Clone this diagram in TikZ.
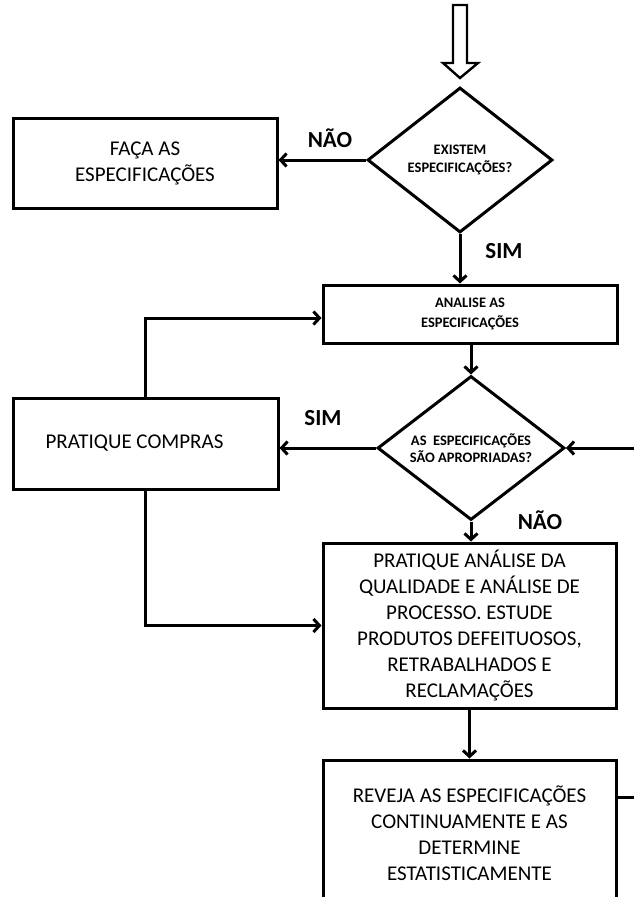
\documentclass[tikz,border=0pt]{standalone}
\usepackage{fontspec}
\setmainfont{Carlito}
\usetikzlibrary{shapes.geometric,arrows.meta}
\begin{document}
\begin{tikzpicture}[x=1pt,y=-1pt,
  every node/.style={inner sep=0pt},
  box/.style={draw,line width=3pt,rectangle,align=center,font=\fontsize{21}{26}\selectfont},
  smallbox/.style={draw,line width=3pt,rectangle,align=center,font=\fontsize{14.5}{20}\selectfont\bfseries},
  dec/.style={draw,line width=3pt,diamond,align=center,font=\fontsize{14.5}{20}\selectfont\bfseries},
  lbl/.style={font=\fontsize{23}{26}\selectfont\bfseries},
  conn/.style={line width=3pt,-{Straight Barb[length=6pt,width=13pt,line width=3pt]}},
  plain/.style={line width=3pt}]
\useasboundingbox (0,0) rectangle (633,897);
% top hollow arrow
\draw[line width=2.4pt] (453,5) -- (467,5) -- (467,63) -- (478,63) -- (460,78) -- (443,63) -- (453,63) -- cycle;
% nodes
\node[dec,minimum width=185pt,minimum height=145pt,aspect=1.28] (d1) at (460,160) {EXISTEM\\[-2pt]ESPECIFICAÇÕES?};
\node[box,minimum width=264pt,minimum height=90pt] (faca) at (145,163) {FAÇA AS\\ESPECIFICAÇÕES};
\node[smallbox,minimum width=294pt,minimum height=58pt] (anal) at (470,314) {ANALISE AS\\ESPECIFICAÇÕES};
\node[dec,minimum width=187pt,minimum height=144pt,aspect=1.3] (d2) at (471,448) {AS~~ESPECIFICAÇÕES\\[-3pt]SÃO APROPRIADAS?};
\node[box,minimum width=265pt,minimum height=91pt] (compras) at (145.5,443.5) {PRATIQUE COMPRAS\hspace*{22pt}};
\node[box,minimum width=293pt,minimum height=165pt] (qual) at (469.5,625.5) {PRATIQUE ANÁLISE DA\\QUALIDADE E ANÁLISE DE\\PROCESSO. ESTUDE\\PRODUTOS DEFEITUOSOS,\\RETRABALHADOS E\\RECLAMAÇÕES};
\node[box,minimum width=293pt,minimum height=146pt] (rev) at (469.5,833) {REVEJA AS ESPECIFICAÇÕES\\CONTINUAMENTE E AS\\DETERMINE\\ESTATISTICAMENTE};
% labels
\node[lbl] (nao1) at (330,138) {NÃO};
\node[lbl] (sim1) at (504,251) {SIM};
\node[lbl] (sim2) at (323,418) {SIM};
\node[lbl] (nao2) at (540,520) {NÃO};
% coordinates
\coordinate (rin) at (645,448);
\coordinate (rout) at (645,797);
% connectors
\draw[conn] (d1.west) -- (d1.west -| faca.east);
\draw[conn] (d1.south) -- (d1.south |- anal.north);
\draw[conn] (d2.north |- anal.south) -- (d2.north);
\draw[conn] (rin) -- (d2.east);
\draw[conn] (d2.west) -- (d2.west -| compras.east);
\draw[conn] (compras.north) |- ([yshift=-4pt]anal.west);
\draw[conn] (compras.south) |- (qual.west);
\draw[conn] (d2.south) -- (d2.south |- qual.north);
\draw[conn] (qual.south) -- (rev.north);
\draw[plain] (rout -| rev.east) -- (rout);
\end{tikzpicture}
\end{document}
